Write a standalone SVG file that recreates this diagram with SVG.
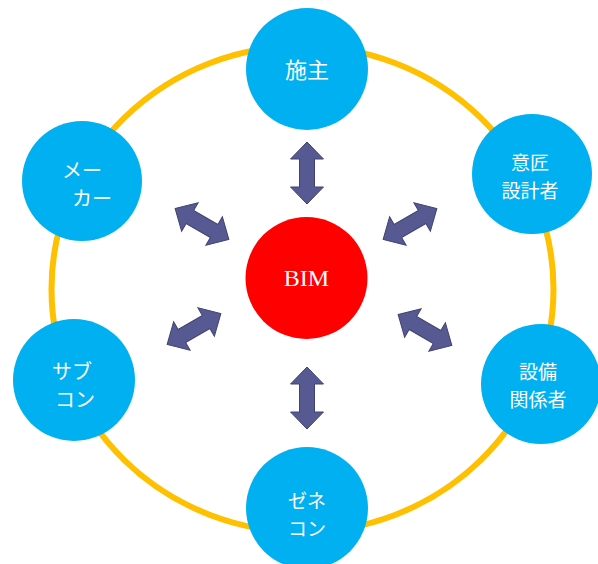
<svg xmlns="http://www.w3.org/2000/svg" xmlns:xlink="http://www.w3.org/1999/xlink" width="598" height="564" viewBox="0 0 598 564">
<style>
.ring{fill:none;stroke:#FFC000;stroke-width:6}
.node{fill:#00B0F0}
.core{fill:#FF0000}
.lbl{fill:#FFFFFF;font-family:"Noto Sans CJK JP","Liberation Serif",serif;font-size:20px;text-anchor:middle;dominant-baseline:central}
.tight{font-size:19px}
.bim{fill:#FFFFFF;font-family:"Liberation Serif",serif;font-size:24px;text-anchor:middle;dominant-baseline:central}
.arr{fill:#575A92;stroke:#40436F;stroke-width:1}
</style>
<defs>
<path id="dbl" d="M -31 0 L -14 -16.5 L -14 -7.5 L 14 -7.5 L 14 -16.5 L 31 0 L 14 16.5 L 14 7.5 L -14 7.5 L -14 16.5 Z"/>
</defs>
<ellipse class="ring" cx="302.5" cy="289" rx="251" ry="243"/>
<g id="connectors">
<use xlink:href="#dbl" class="arr" transform="translate(307,173) rotate(90)"/>
<use xlink:href="#dbl" class="arr" transform="translate(307,398) rotate(90)"/>
<use xlink:href="#dbl" class="arr" transform="translate(202,224) rotate(30)"/>
<use xlink:href="#dbl" class="arr" transform="translate(410,224) rotate(-30)"/>
<use xlink:href="#dbl" class="arr" transform="translate(194,329) rotate(-30)"/>
<use xlink:href="#dbl" class="arr" transform="translate(425,330) rotate(30)"/>
</g>
<g id="bim">
<circle class="core" cx="306.5" cy="278" r="61"/>
<text class="bim" x="306.5" y="278">BIM</text>
</g>
<g id="sesyu">
<circle class="node" cx="307" cy="69" r="61"/>
<text class="lbl" x="307" y="68" style="font-size:22px">施主</text>
</g>
<g id="maker">
<circle class="node" cx="82" cy="181" r="60"/>
<text class="lbl"><tspan x="82" y="169">メー</tspan><tspan x="92" y="197">カー</tspan></text>
</g>
<g id="isyo">
<circle class="node" cx="532" cy="174" r="60"/>
<text class="lbl tight"><tspan x="530" y="161">意匠</tspan><tspan x="530" y="189">設計者</tspan></text>
</g>
<g id="subcon">
<circle class="node" cx="74" cy="380" r="61"/>
<text class="lbl"><tspan x="72" y="370">サブ</tspan><tspan x="75" y="398">コン</tspan></text>
</g>
<g id="setsubi">
<circle class="node" cx="541" cy="384" r="60"/>
<text class="lbl tight"><tspan x="538" y="370">設備</tspan><tspan x="538" y="398">関係者</tspan></text>
</g>
<g id="zenecon">
<circle class="node" cx="307" cy="508" r="61"/>
<text class="lbl tight"><tspan x="307" y="499">ゼネ</tspan><tspan x="307" y="527">コン</tspan></text>
</g>
</svg>
